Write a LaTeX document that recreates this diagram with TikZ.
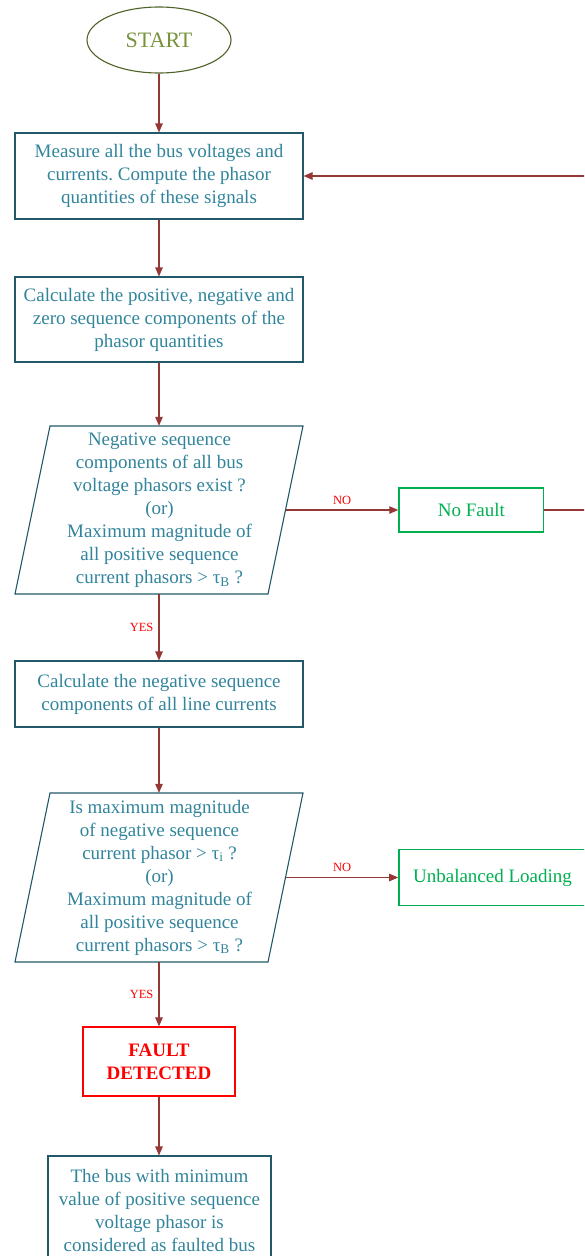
\documentclass[tikz,border=0pt]{standalone}
\usepackage{fontspec}
\setmainfont{Liberation Serif}
\frenchspacing
\usetikzlibrary{shapes.geometric,arrows.meta}
\definecolor{txteal}{HTML}{31849B}
\definecolor{bdteal}{HTML}{215968}
\definecolor{arrred}{HTML}{953735}
\definecolor{olivetx}{HTML}{77933C}
\definecolor{olivebd}{HTML}{4F6228}
\definecolor{grn}{HTML}{00B050}
\definecolor{lblred}{HTML}{FF0000}
\begin{document}
\begin{tikzpicture}[x=1pt,y=-1pt,
  txt/.style={font=\fontsize{19}{23}\selectfont, align=center, inner sep=0pt},
  proc/.style={txt, draw=bdteal, line width=1.1pt, text=txteal, rectangle},
  decis/.style={txt, text=txteal, rectangle, minimum width=253pt},
  parabd/.style={draw=bdteal, line width=1.1pt},
  outbox/.style={txt, draw=grn, line width=1.6pt, text=grn, rectangle},
  faultbox/.style={txt, draw=lblred, line width=1.3pt, text=lblred, rectangle, font=\fontsize{19}{23}\selectfont\bfseries},
  arw/.style={draw=arrred, line width=1.1pt, -{Triangle[length=9pt,width=7.5pt]}},
  lbl/.style={font=\fontsize{12.5}{14}\selectfont, text=lblred, inner sep=0pt}]
\useasboundingbox (0,0) rectangle (584,1256);
\clip (0,0) rectangle (584,1256);

\node[ellipse, draw=olivebd, line width=1.1pt, text=olivetx, font=\fontsize{22}{26}\selectfont,
      minimum width=144pt, minimum height=66pt, inner sep=0pt] (start) at (159,40) {START};

\node[proc, minimum width=288pt, minimum height=86pt] (box1) at (159,176)
  {Measure all the bus voltages and\\currents. Compute the phasor\\quantities of these signals};

\node[proc, minimum width=288pt, minimum height=85pt] (box2) at (159,319.5)
  {Calculate the positive, negative and\\zero sequence components of the\\phasor quantities};

\node[decis, minimum height=168pt] (p1) at (159.5,510)
  {Negative sequence\\components of all bus\\voltage phasors exist ?\\(or)\\Maximum magnitude of\\all positive sequence\\current phasors > τ\textsubscript{B} ?};
\draw[parabd] (p1.center) ++(-109.5,-84) -- ++(253,0) -- ++(-35,168) -- ++(-253,0) -- cycle;

\node[outbox, minimum width=144.5pt, minimum height=44pt] (nofault) at (471.3,510) {No Fault};

\node[proc, minimum width=288pt, minimum height=66pt] (box3) at (159,694)
  {Calculate the negative sequence\\components of all line currents};

\node[decis, minimum height=169pt] (p2) at (159.5,877.5)
  {Is maximum magnitude\\of negative sequence\\current phasor > τ\textsubscript{i} ?\\(or)\\Maximum magnitude of\\all positive sequence\\current phasors > τ\textsubscript{B} ?};
\draw[parabd] (p2.center) ++(-109.5,-84.5) -- ++(253,0) -- ++(-35,169) -- ++(-253,0) -- cycle;

\node[outbox, minimum width=187pt, minimum height=56pt] (unbal) at (492.5,877.5) {Unbalanced Loading};

\node[faultbox, minimum width=152pt, minimum height=69pt] (fault) at (159,1061.5) {FAULT\\DETECTED};

\node[proc, minimum width=223pt, minimum height=108pt] (last) at (159.5,1210)
  {The bus with minimum\\value of positive sequence\\voltage phasor is\\considered as faulted bus};

\coordinate (fbx) at (586,176);

\draw[arw] (start) -- (box1);
\draw[arw] (box1) -- (box2);
\draw[arw] (box2.south) -- (p1.north -| box2.south);
\draw[arw] (p1.south -| box2.south) -- node[lbl, midway, left=5pt] {YES} (box3);
\draw[arw] (p1.east) -- node[lbl, midway, above=5pt] {NO} (nofault);
\draw[arw] (nofault.east) -| (fbx) -- (box1.east);
\draw[arw] (box3) -- (p2.north -| box3.south);
\draw[arw] (p2.east) -- node[lbl, midway, above=5pt] {NO} (unbal);
\draw[arw] (p2.south -| box3.south) -- node[lbl, midway, left=5pt] {YES} (fault);
\draw[arw] (fault) -- (fault |- last.north);
\end{tikzpicture}
\end{document}
